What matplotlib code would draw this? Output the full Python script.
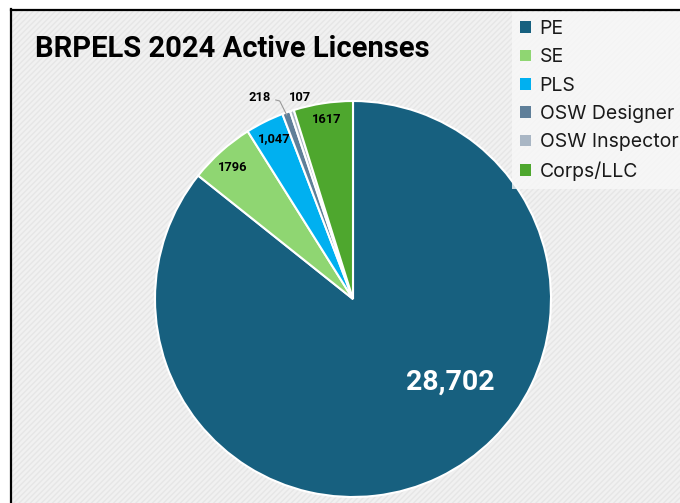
import matplotlib
matplotlib.use("Agg")
import matplotlib.pyplot as plt
from matplotlib.patches import Rectangle
import matplotlib.patches as mpatches

categories = ["PE", "SE", "PLS", "OSW Designer", "OSW Inspector", "Corps/LLC"]
values = [28702, 1796, 1047, 218, 107, 1617]
value_labels = ["28,702", "1796", "1,047", "218", "107", "1617"]
colors = ["#17607f", "#8fd672", "#00b0f0", "#5f7f99", "#a9b6c4", "#4ea72e"]

W, H = 680, 503
fig = plt.figure(figsize=(W / 100, H / 100), dpi=100)
fig.patch.set_facecolor("white")

# chart area background with border on left/top
bg = Rectangle((11 / W, 0), 1, 1 - 10 / H, transform=fig.transFigure,
               facecolor="#f1f1f1", edgecolor="none", zorder=-10)
fig.patches.append(bg)
hatch = Rectangle((11 / W, 0), 1, 1 - 10 / H, transform=fig.transFigure,
                  facecolor="none", edgecolor="#e6e6e6", hatch="//////", lw=0, zorder=-9)
fig.patches.append(hatch)
fig.lines.append(plt.Line2D([11 / W, 11 / W], [0, 1 - 9 / H], transform=fig.transFigure,
                            color="black", lw=1.6, zorder=-5))
fig.lines.append(plt.Line2D([11 / W, 1], [1 - 10 / H, 1 - 10 / H], transform=fig.transFigure,
                            color="black", lw=1.6, zorder=-5))

# pie axes
cx, cy, r = 353, 299, 198
ax = fig.add_axes([(cx - r) / W, (H - cy - r) / H, 2 * r / W, 2 * r / H], zorder=1)
ax.set_axis_off()
ax.patch.set_visible(False)
wedges, _ = ax.pie(values, colors=colors, startangle=90, counterclock=False,
                   wedgeprops=dict(edgecolor="white", linewidth=1.5), radius=1)
ax.set_xlim(-1, 1)
ax.set_ylim(-1, 1)

label_pos = [(0.49, -0.42), (-0.61, 0.665), (-0.40, 0.81), (-0.47, 1.02), (-0.27, 1.02), (-0.135, 0.905)]
for i, (lab, (x, y)) in enumerate(zip(value_labels, label_pos)):
    if i == 0:
        ax.text(x, y, lab, color="white", fontsize=20.5, fontweight="bold",
                family="Roboto", ha="center", va="center")
    else:
        ax.text(x, y, lab, color="black", fontsize=9.3, fontweight="bold",
                family="Roboto", ha="center", va="center", clip_on=False)

# leader line for 218
ax.plot([-0.39, -0.37, -0.335], [1.005, 1.0, 0.93], color="#999999", lw=0.8, clip_on=False)

# title
fig.text(35 / W, 1 - 49 / H, "BRPELS 2024 Active Licenses", fontsize=21, fontweight="bold",
         family="Roboto", ha="left", va="center", color="black", zorder=3)

# legend
handles = [mpatches.Patch(facecolor=c, edgecolor="none") for c in colors]
leg = fig.legend(handles, categories, loc="upper left",
                 bbox_to_anchor=(512 / W, 1 - 12 / H), frameon=True,
                 prop={"family": "Inter", "size": 14}, handlelength=0.55, handleheight=0.55,
                 handletextpad=0.45, labelspacing=0.53, borderpad=0.42, borderaxespad=0)
leg.get_frame().set_facecolor("#f8f8f8")
leg.get_frame().set_edgecolor("none")
leg.get_frame().set_boxstyle("square", pad=0)
leg.set_zorder(4)
for t in leg.get_texts():
    t.set_color("#1a1a1a")

fig.savefig("out.png", dpi=100)
